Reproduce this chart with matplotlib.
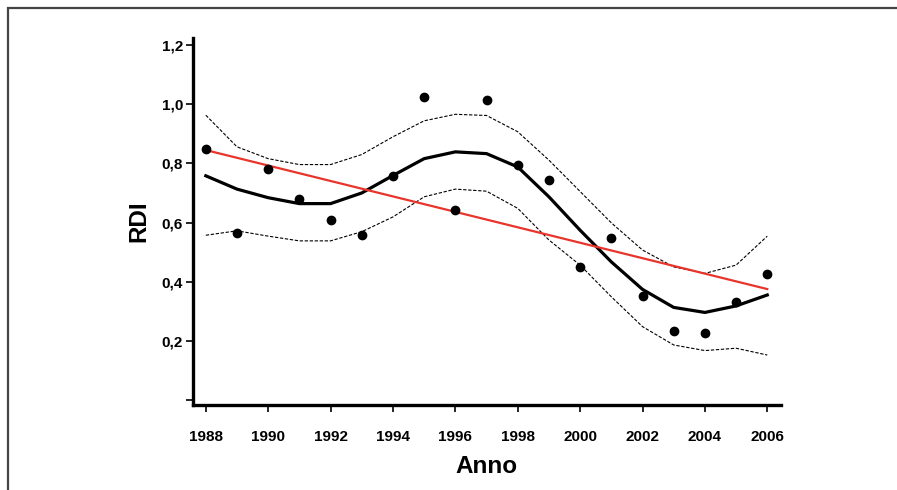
import matplotlib
matplotlib.use("Agg")
import matplotlib.pyplot as plt
from matplotlib.patches import Rectangle

years = list(range(1988, 2007))
rdi_obs = [0.848, 0.566, 0.780, 0.681, 0.608, 0.557, 0.759, 1.024, 0.642, 1.014,
           0.795, 0.743, 0.450, 0.547, 0.351, 0.233, 0.227, 0.330, 0.427]
smooth = [0.758, 0.713, 0.684, 0.664, 0.664, 0.700, 0.759, 0.816, 0.839, 0.833,
          0.788, 0.687, 0.574, 0.467, 0.374, 0.313, 0.296, 0.318, 0.355]
upper = [0.963, 0.856, 0.816, 0.796, 0.796, 0.830, 0.890, 0.944, 0.966, 0.962,
         0.907, 0.811, 0.705, 0.599, 0.507, 0.450, 0.428, 0.456, 0.554]
lower = [0.557, 0.572, 0.554, 0.538, 0.538, 0.569, 0.619, 0.687, 0.713, 0.706,
         0.648, 0.541, 0.456, 0.349, 0.248, 0.186, 0.167, 0.175, 0.152]
trend_x = [1988, 2006]
trend_y = [0.845, 0.375]

xticks = list(range(1988, 2007, 2))
yticks = [0.0, 0.2, 0.4, 0.6, 0.8, 1.0, 1.2]
ytick_labels = ["", "0,2", "0,4", "0,6", "0,8", "1,0", "1,2"]

plt.rcParams['font.family'] = ['Liberation Sans', 'DejaVu Sans']

W, H = 897, 490
fig = plt.figure(figsize=(W / 100, H / 100), dpi=100)
fig.patch.set_facecolor("white")

# outer frame (cropped: only top and left visible)
fig.patches.append(Rectangle((8 / W, -0.1), 1.2, (H - 8) / H + 0.1,
                             transform=fig.transFigure, fill=False,
                             edgecolor="#444444", linewidth=1.6))

left, right, top, bottom = 192.7, 781, 38, 405
ax = fig.add_axes([left / W, (H - bottom) / H, (right - left) / W, (bottom - top) / H])
ax.set_xlim(1987.58, 2006.44)
ax.set_ylim(-0.017, 1.224)

ax.plot(years, upper, color="black", lw=0.8, ls=(0, (3, 1.5)))
ax.plot(years, lower, color="black", lw=0.8, ls=(0, (3, 1.5)))
ax.plot(years, smooth, color="black", lw=2.3, solid_joinstyle="miter")
ax.plot(trend_x, trend_y, color="#e8352b", lw=1.6)
ax.plot(years, rdi_obs, "o", color="black", ms=6, zorder=5)

for s in ["top", "right"]:
    ax.spines[s].set_visible(False)
for s in ["left", "bottom"]:
    ax.spines[s].set_linewidth(2.4)

ax.set_xticks(xticks)
ax.set_xticklabels([str(x) for x in xticks], fontsize=11, fontweight="bold")
ax.set_yticks(yticks)
ax.set_yticklabels(ytick_labels, fontsize=11, fontweight="bold")
ax.tick_params(axis="both", length=5, width=1.2, direction="out")
ax.tick_params(axis="x", pad=13)
ax.tick_params(axis="y", pad=2)

ax.set_xlabel("Anno", fontsize=17.5, fontweight="bold", labelpad=8)
ax.set_ylabel("RDI", fontsize=17.5, fontweight="bold", labelpad=8)

fig.savefig("out.png", dpi=100, facecolor="white")
